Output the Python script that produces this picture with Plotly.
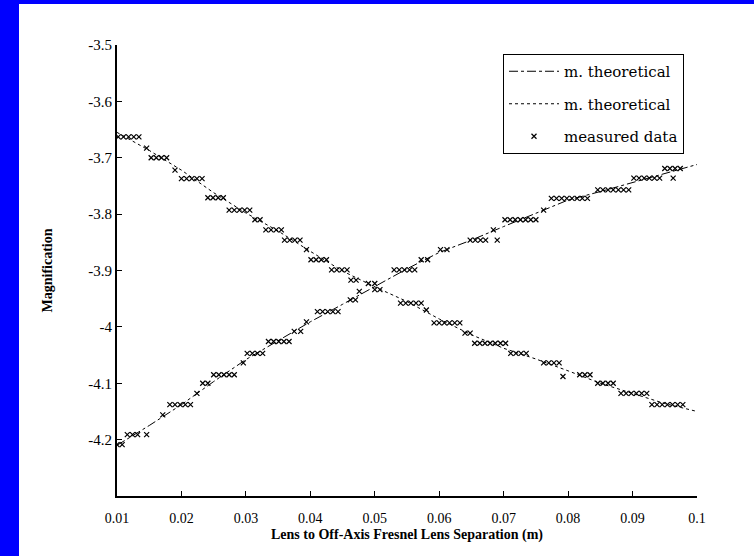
import plotly.graph_objects as go

# Theoretical curves
theory_x = [0.010, 0.015, 0.020, 0.025, 0.030, 0.035, 0.040, 0.045, 0.050, 0.055,
            0.060, 0.065, 0.070, 0.075, 0.080, 0.085, 0.090, 0.095, 0.100]
theory_inc = [-4.210, -4.175, -4.138, -4.097, -4.058, -4.025, -3.991, -3.960, -3.928, -3.897,
              -3.868, -3.846, -3.822, -3.798, -3.775, -3.760, -3.744, -3.727, -3.712]
theory_dec = [-3.655, -3.687, -3.722, -3.762, -3.798, -3.830, -3.866, -3.901, -3.929, -3.955,
              -3.986, -4.014, -4.038, -4.057, -4.078, -4.100, -4.118, -4.136, -4.150]

# Measured data (decreasing branch)
meas_dec_x = [0.0102, 0.0110, 0.0118, 0.0126, 0.0134, 0.0146,
              0.0153, 0.0161, 0.0169, 0.0177, 0.0190,
              0.0200, 0.0208, 0.0216, 0.0224, 0.0232,
              0.0241, 0.0249, 0.0257, 0.0265,
              0.0274, 0.0282, 0.0290, 0.0298, 0.0306,
              0.0314, 0.0322,
              0.0331, 0.0339, 0.0347, 0.0355,
              0.0360, 0.0368, 0.0376, 0.0384, 0.0394,
              0.0401, 0.0409, 0.0417, 0.0425,
              0.0433, 0.0441, 0.0449, 0.0457,
              0.0463, 0.0471, 0.0500, 0.0508,
              0.0540, 0.0548, 0.0556, 0.0564, 0.0572, 0.0580,
              0.0592, 0.0600, 0.0608, 0.0616, 0.0624, 0.0632,
              0.0640, 0.0648,
              0.0655, 0.0663, 0.0671, 0.0679, 0.0687, 0.0695, 0.0703,
              0.0711, 0.0719, 0.0727, 0.0735,
              0.0762, 0.0770, 0.0778, 0.0786, 0.0792,
              0.0818, 0.0826, 0.0834,
              0.0846, 0.0854, 0.0862, 0.0870,
              0.0882, 0.0890, 0.0898, 0.0906, 0.0914, 0.0922,
              0.0930, 0.0938, 0.0946, 0.0954, 0.0962, 0.0970, 0.0978]
meas_dec_y = [-3.663, -3.663, -3.663, -3.663, -3.663, -3.683,
              -3.700, -3.700, -3.700, -3.700, -3.722,
              -3.737, -3.737, -3.737, -3.737, -3.737,
              -3.771, -3.771, -3.771, -3.771,
              -3.793, -3.793, -3.793, -3.793, -3.793,
              -3.810, -3.810,
              -3.828, -3.828, -3.828, -3.828,
              -3.846, -3.846, -3.846, -3.846, -3.863,
              -3.881, -3.881, -3.881, -3.881,
              -3.899, -3.899, -3.899, -3.899,
              -3.917, -3.917, -3.934, -3.934,
              -3.958, -3.958, -3.958, -3.958, -3.958, -3.970,
              -3.993, -3.993, -3.993, -3.993, -3.993, -3.993,
              -4.011, -4.011,
              -4.029, -4.029, -4.029, -4.029, -4.029, -4.029, -4.029,
              -4.047, -4.047, -4.047, -4.047,
              -4.064, -4.064, -4.064, -4.064, -4.088,
              -4.085, -4.085, -4.085,
              -4.100, -4.100, -4.100, -4.100,
              -4.118, -4.118, -4.118, -4.118, -4.118, -4.118,
              -4.138, -4.138, -4.138, -4.138, -4.138, -4.138, -4.138]

# Measured data (increasing branch)
meas_inc_x = [0.0100, 0.0108, 0.0116, 0.0124, 0.0132, 0.0146, 0.0171,
              0.0182, 0.0190, 0.0198, 0.0206, 0.0214, 0.0224,
              0.0233, 0.0241,
              0.0250, 0.0258, 0.0266, 0.0274, 0.0282, 0.0296,
              0.0302, 0.0310, 0.0318, 0.0326,
              0.0335, 0.0343, 0.0351, 0.0359, 0.0367,
              0.0375, 0.0385, 0.0394,
              0.0411, 0.0419, 0.0427, 0.0435, 0.0443,
              0.0462, 0.0470, 0.0476, 0.0490, 0.0500,
              0.0530, 0.0538, 0.0546, 0.0554, 0.0562,
              0.0572, 0.0582, 0.0602, 0.0612,
              0.0648, 0.0656, 0.0664, 0.0672, 0.0690, 0.0684,
              0.0702, 0.0710, 0.0718, 0.0726, 0.0734, 0.0742, 0.0750, 0.0762,
              0.0774, 0.0782, 0.0790, 0.0798, 0.0806, 0.0814, 0.0822, 0.0830,
              0.0846, 0.0854, 0.0862, 0.0870, 0.0878, 0.0886, 0.0894,
              0.0902, 0.0910, 0.0918, 0.0926, 0.0934, 0.0942, 0.0963,
              0.0950, 0.0958, 0.0966, 0.0974]
meas_inc_y = [-4.209, -4.209, -4.191, -4.191, -4.191, -4.191, -4.156,
              -4.138, -4.138, -4.138, -4.138, -4.138, -4.118,
              -4.100, -4.100,
              -4.085, -4.085, -4.085, -4.085, -4.085, -4.064,
              -4.047, -4.047, -4.047, -4.047,
              -4.026, -4.026, -4.026, -4.026, -4.026,
              -4.008, -4.008, -3.991,
              -3.973, -3.973, -3.973, -3.973, -3.973,
              -3.952, -3.952, -3.937, -3.923, -3.923,
              -3.899, -3.899, -3.899, -3.899, -3.899,
              -3.881, -3.881, -3.863, -3.863,
              -3.846, -3.846, -3.846, -3.846, -3.846, -3.828,
              -3.810, -3.810, -3.810, -3.810, -3.810, -3.810, -3.810, -3.793,
              -3.772, -3.772, -3.772, -3.772, -3.772, -3.772, -3.772, -3.772,
              -3.757, -3.757, -3.757, -3.757, -3.757, -3.757, -3.757,
              -3.736, -3.736, -3.736, -3.736, -3.736, -3.736, -3.736,
              -3.719, -3.719, -3.719, -3.719]

x_ticks = [0.01, 0.02, 0.03, 0.04, 0.05, 0.06, 0.07, 0.08, 0.09, 0.1]
x_tick_labels = ["0.01", "0.02", "0.03", "0.04", "0.05", "0.06", "0.07", "0.08", "0.09", "0.1"]
y_ticks = [-3.5, -3.6, -3.7, -3.8, -3.9, -4.0, -4.1, -4.2]
y_tick_labels = ["-3.5", "-3.6", "-3.7", "-3.8", "-3.9", "-4", "-4.1", "-4.2"]

SERIF = "Liberation Serif, Times New Roman, serif"

fig = go.Figure()
fig.add_trace(go.Scatter(x=theory_x, y=theory_inc, mode="lines", name="m. theoretical",
                         line=dict(color="black", width=1, dash="dashdot"), legendgroup="a"))
fig.add_trace(go.Scatter(x=theory_x, y=theory_dec, mode="lines", name="m. theoretical",
                         line=dict(color="black", width=1, dash="dot"), legendgroup="b"))
fig.add_trace(go.Scatter(x=meas_dec_x + meas_inc_x, y=meas_dec_y + meas_inc_y, mode="markers",
                         name="measured data", legendgroup="c",
                         marker=dict(symbol="x-thin", size=5, color="black",
                                     line=dict(color="black", width=1.2))))

L, R, T, B = 117, 57, 45, 60
PW, PH = 754 - L - R, 556 - T - B

shapes = [
    dict(type="rect", xref="paper", yref="paper",
         x0=-L / PW - 0.05, x1=(19 - L) / PW, y0=-0.3, y1=1.3,
         fillcolor="#0000FF", line=dict(width=0), layer="above"),
    dict(type="rect", xref="paper", yref="paper",
         x0=-0.3, x1=1.3, y0=1 + (T - 4) / PH, y1=1.3,
         fillcolor="#0000FF", line=dict(width=0), layer="above"),
]

fig.update_layout(
    width=754, height=556,
    margin=dict(l=L, r=R, t=T, b=B, autoexpand=False),
    paper_bgcolor="white", plot_bgcolor="white",
    font=dict(family=SERIF, size=13, color="black"),
    showlegend=True,
    legend=dict(x=(503 - L) / PW, y=1 - (54 - T) / PH, xanchor="left", yanchor="top",
                bgcolor="white", bordercolor="black", borderwidth=1,
                font=dict(family="DejaVu Serif, serif", size=15, color="black"),
                tracegroupgap=10, itemwidth=50),
    shapes=shapes,
    xaxis=dict(range=[0.01, 0.1], tickvals=x_ticks, ticktext=x_tick_labels,
               ticks="inside", ticklen=5, tickcolor="black", showgrid=False, zeroline=False,
               showline=True, linecolor="black", linewidth=2, mirror=False,
               ticklabelstandoff=8, tickfont=dict(family=SERIF, size=14),
               title=dict(text="<b>Lens to Off-Axis Fresnel Lens Separation (m)</b>",
                          font=dict(family=SERIF, size=14), standoff=4)),
    yaxis=dict(range=[-4.3, -3.5], tickvals=y_ticks, ticktext=y_tick_labels,
               ticks="inside", ticklen=5, tickcolor="black", showgrid=False, zeroline=False,
               showline=True, linecolor="black", linewidth=2, mirror=False,
               tickfont=dict(family=SERIF, size=15),
               title=dict(text="<b>Magnification</b>",
                          font=dict(family=SERIF, size=14), standoff=32)),
)

fig.write_html("out.html", config={"displayModeBar": False},
               post_script="document.body.style.margin='0';")
